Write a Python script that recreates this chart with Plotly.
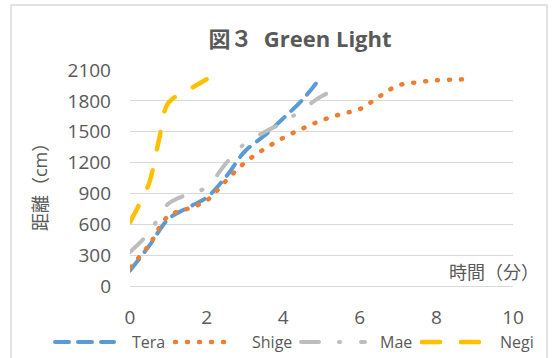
import plotly.graph_objects as go

# ---- data ----
tera_x = [0, 0.5, 1, 1.5, 2, 2.5, 3, 3.5, 4, 4.5, 4.9]
tera_y = [150, 390, 650, 760, 860, 1060, 1310, 1460, 1630, 1810, 1990]

shige_x = [0, 0.5, 1, 1.5, 2, 2.5, 3, 3.5, 4, 4.5, 5, 5.5, 6, 6.5, 7, 7.5, 8, 8.8]
shige_y = [180, 400, 680, 750, 830, 1020, 1200, 1330, 1440, 1530, 1610, 1670, 1720, 1840, 1950, 1980, 2000, 2010]

mae_x = [0, 0.5, 1, 1.5, 2, 2.5, 3, 3.5, 4, 4.5, 5, 5.5]
mae_y = [330, 520, 800, 890, 960, 1190, 1385, 1495, 1590, 1715, 1845, 1925]

negi_x = [0, 0.25, 0.5, 0.75, 1, 1.5, 2]
negi_y = [620, 800, 1000, 1410, 1780, 1900, 2010]

series_names = ["Tera", "Shige", "Mae", "Negi"]
series_colors = ["#5B9BD5", "#ED7D31", "#BDBDBD", "#FFC000"]
series_dashes = ["14px,9px", "1px,11px", "18px,20px,1px,21px", "18px,21px"]
series_widths = [4, 4.5, 4, 4.5]

x_ticks = [0, 2, 4, 6, 8, 10]
y_ticks = [0, 300, 600, 900, 1200, 1500, 1800, 2100]

title_text = "<b>図３  Green Light</b>"
x_title = "時間（分）"
y_title = "距離（cm）"

GREY = "#595959"
FONT = "Open Sans, Noto Sans CJK JP, sans-serif"

W, H = 553, 358
L, R, T, B = 130, 40, 70, 72
PW, PH = W - L - R, H - T - B


def px_x(px):
    return (px - L) / PW


def px_y(py):
    return (H - B - py) / PH


fig = go.Figure()
data = [(tera_x, tera_y), (shige_x, shige_y), (mae_x, mae_y), (negi_x, negi_y)]
for (xs, ys), name, col, dash, w in zip(data, series_names, series_colors, series_dashes, series_widths):
    fig.add_trace(go.Scatter(x=xs, y=ys, name=name, mode="lines", showlegend=False,
                             line=dict(color=col, width=w, dash=dash, shape="spline")))

# custom legend (long line samples like the reference)
legend_sym = [(55, 114), (175, 235), (301, 365), (422, 481)]
legend_txt = [130, 250, 378, 498]
legend_y = px_y(342)
shapes = [dict(type="rect", xref="paper", yref="paper",
               x0=px_x(11), x1=px_x(547), y0=px_y(420), y1=px_y(5),
               line=dict(color="#D9D9D9", width=1.5), fillcolor="rgba(0,0,0,0)",
               layer="below")]
annotations = [
    dict(text=x_title, xref="paper", yref="paper", x=px_x(541), y=px_y(272),
         xanchor="right", yanchor="middle", showarrow=False,
         font=dict(size=18, color=GREY)),
    dict(text=y_title, xref="paper", yref="paper", x=px_x(40), y=px_y(183),
         xanchor="center", yanchor="middle", showarrow=False, textangle=-90,
         font=dict(size=18, color=GREY)),
]
for (s0, s1), tx, name, col, dash, w in zip(legend_sym, legend_txt, series_names,
                                           series_colors, series_dashes, series_widths):
    shapes.append(dict(type="line", xref="paper", yref="paper",
                       x0=px_x(s0), x1=px_x(s1), y0=legend_y, y1=legend_y,
                       line=dict(color=col, width=w, dash=dash)))
    annotations.append(dict(text=name, xref="paper", yref="paper", x=px_x(tx), y=legend_y,
                            xanchor="left", yanchor="middle", showarrow=False,
                            font=dict(size=16, color=GREY)))

fig.update_layout(
    width=W, height=H,
    margin=dict(l=L, r=R, t=T, b=B),
    paper_bgcolor="white", plot_bgcolor="white",
    font=dict(family=FONT, color=GREY, size=16),
    title=dict(text=title_text, x=300 / W, xref="container", xanchor="center",
               y=1 - 39 / H, yref="container", yanchor="middle",
               font=dict(size=22, color=GREY, family=FONT)),
    showlegend=False,
    xaxis=dict(range=[0, 10], tickvals=x_ticks, showgrid=False, zeroline=False,
               showline=False, ticks="", ticklabelstandoff=18, automargin=False,
               tickfont=dict(size=19, color=GREY)),
    yaxis=dict(range=[0, 2100], tickvals=y_ticks, showgrid=True, gridcolor="#D9D9D9",
               gridwidth=1, zeroline=True, zerolinecolor="#D9D9D9", zerolinewidth=1,
               showline=False, ticks="", ticklabelstandoff=18, automargin=False,
               tickfont=dict(size=19, color=GREY)),
    annotations=annotations,
    shapes=shapes,
)

post = """
document.body.style.margin = '0';
document.body.style.padding = '0';
function roundCaps(){
  document.querySelectorAll('path.js-line, .shapelayer path').forEach(function(p){
    p.style.strokeLinecap='round'; p.style.strokeLinejoin='round';
  });
}
roundCaps();
var gd = document.getElementById('{plot_id}');
if (gd && gd.on) { gd.on('plotly_afterplot', roundCaps); }
"""
fig.write_html("out.html", post_script=post, config={"displayModeBar": False})
